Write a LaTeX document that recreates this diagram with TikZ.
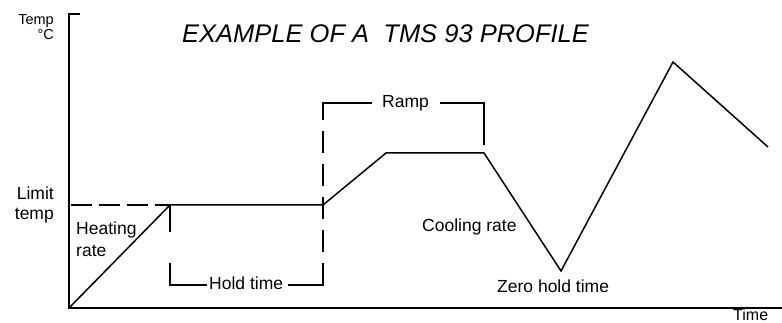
\documentclass[tikz,border=0pt]{standalone}
\usepackage{fontspec}
\setmainfont{Liberation Sans}
\begin{document}
\begin{tikzpicture}[x=1pt,y=-1pt,
  axis/.style={line width=2.6pt},
  prof/.style={line width=1.5pt,line join=miter},
  brk/.style={line width=2pt},
  lbl/.style={font=\fontsize{17.5}{20}\selectfont,inner sep=0pt},
  small/.style={font=\fontsize{14.5}{17}\selectfont,inner sep=0pt}]
\useasboundingbox (0,0) rectangle (782,323);
% axes
\coordinate (O) at (69,308);
\coordinate (Ytop) at (69,14);
\coordinate (Ytick) at (80,14);
\coordinate (Xend) at (782,308);
\draw[axis] (Ytick) -- (Ytop) -- (O) -- (Xend);
% profile
\coordinate (L0) at (71,205);
\coordinate (H1) at (170,205);
\coordinate (H2) at (323,205);
\coordinate (R1) at (386,153);
\coordinate (R2) at (484,153);
\coordinate (V) at (561,271);
\coordinate (P) at (673,62);
\coordinate (E) at (768,147);
\draw[prof] (O) -- (H1) -- (H2) -- (R1) -- (R2) -- (V) -- (P) -- (E);
\draw[brk,dash pattern=on 21pt off 7pt] (L0) -- (H1);
% hold time bracket
\coordinate (HB1) at (170,285);
\coordinate (HB2) at (207,285);
\coordinate (HB3) at (288,285);
\coordinate (HB4) at (323,285);
\coordinate (RB0) at (323,103);
\coordinate (RB1) at (372,103);
\coordinate (RB2) at (440,103);
\coordinate (RB3) at (484,103);
\coordinate (RB4) at (484,145);
\draw[brk,dash pattern=on 27pt off 31pt on 200pt] (H1) -- (HB1) -- (HB2);
\draw[brk,dash pattern=on 57pt off 11pt on 22pt off 11pt on 22pt off 11pt on 22pt off 11pt on 22pt off 11pt on 200pt]
  (HB3) -- (HB4) -- (RB0) -- (RB1);
\draw[brk] (RB2) -- (RB3) -- (RB4);
% texts
\node[anchor=base west,inner sep=0pt,font=\fontsize{25.5}{30}\selectfont\itshape] (title) at (182,43) {EXAMPLE OF A\ \ TMS 93 PROFILE};
\node[small,anchor=base east] (temp) at (54,25) {Temp};
\node[small,anchor=base east] (degc) at (54,40) {°C};
\node[lbl,anchor=base east] (limit) at (54,200) {Limit};
\node[lbl,anchor=base east] (ltemp) at (54,220) {temp};
\node[lbl,anchor=base west] (heat) at (76,235) {Heating};
\node[lbl,anchor=base west] (hrate) at (76,257) {rate};
\node[lbl,anchor=base west] (hold) at (209,290) {Hold time};
\node[lbl,anchor=base west] (ramp) at (382,108) {Ramp};
\node[lbl,anchor=base west] (cool) at (422,232) {Cooling rate};
\node[lbl,anchor=base west] (zero) at (497,292) {Zero hold time};
\node[font=\fontsize{16}{18}\selectfont,inner sep=0pt,anchor=base west] (time) at (733,320) {Time};
\end{tikzpicture}
\end{document}
